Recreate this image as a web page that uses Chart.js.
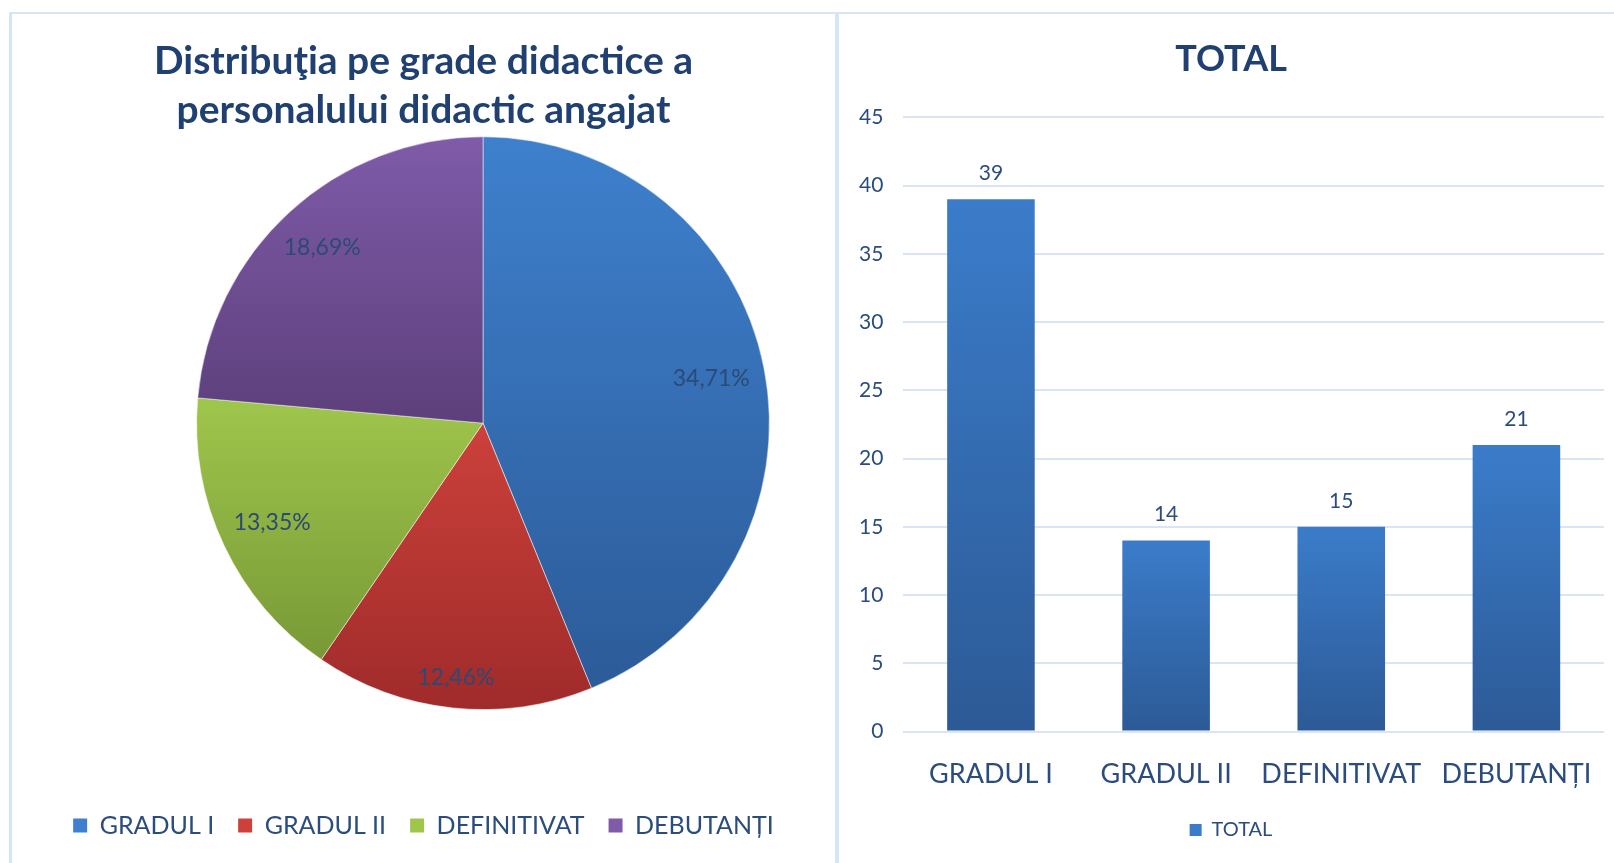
<!DOCTYPE html>
<html>
<head>
<meta charset="utf-8">
<script src="https://cdn.jsdelivr.net/npm/chart.js@4.4.0/dist/chart.umd.min.js"></script>
<style>
html, body { margin: 0; padding: 0; background: #fff; overflow: hidden; width: 1614px; height: 863px; }
.panel { position: absolute; top: 12px; border: 2px solid #d6e4f5; background: #fff; box-sizing: border-box; }
#leftPanel { left: 9px; width: 828px; height: 900px; border-left-width: 3px; }
#rightPanel { left: 837px; width: 800px; height: 900px; }
canvas { position: absolute; left: 0; top: 0; }
</style>
</head>
<body>
<div class="panel" id="leftPanel"><canvas id="pieChart" width="823" height="860"></canvas></div>
<div class="panel" id="rightPanel"><canvas id="barChart" width="775" height="860"></canvas></div>
<script>
// date
const categories = ['GRADUL I', 'GRADUL II', 'DEFINITIVAT', 'DEBUTANȚI'];
const totals = [39, 14, 15, 21];
const pieLabels = ['34,71%', '12,46%', '13,35%', '18,69%'];
const yTicks = [0, 5, 10, 15, 20, 25, 30, 35, 40, 45];

// culori (sus, jos) pentru gradient
const sliceColors = [
    ['#3e80cd', '#2c5b98'],
    ['#cc413b', '#9f2b2a'],
    ['#9fc64c', '#789936'],
    ['#7f5ba9', '#5d3f7b']
];
const barColors = ['#3b7cca', '#2c5a96'];
const textColor = '#2b4c7e';
const titleColor = '#1f4070';
const fontFamily = 'Lato, "Open Sans", sans-serif';

// gradient vertical pe fiecare felie, dupa unghiurile ei
function sliceGradient(c) {
    const cols = sliceColors[c.dataIndex % sliceColors.length];
    const chart = c.chart, a = chart.chartArea;
    if (!a || c.type !== 'data') return cols[0];
    const total = totals.reduce((s, v) => s + v, 0);
    let start = -Math.PI / 2;
    for (let i = 0; i < c.dataIndex; i++) start += totals[i] / total * 2 * Math.PI;
    const end = start + totals[c.dataIndex] / total * 2 * Math.PI;
    const cy = (a.top + a.bottom) / 2, r = Math.min(a.width, a.height) / 2;
    const ys = [cy, cy + r * Math.sin(start), cy + r * Math.sin(end)];
    [-Math.PI / 2, Math.PI / 2, 3 * Math.PI / 2].forEach(ang => {
        if (ang >= start && ang <= end) ys.push(cy + r * Math.sin(ang));
    });
    const y0 = Math.min(...ys), y1 = Math.max(...ys);
    if (!isFinite(y0) || !isFinite(y1) || y1 <= y0) return cols[0];
    const g = chart.ctx.createLinearGradient(0, y0, 0, y1);
    g.addColorStop(0, cols[0]);
    g.addColorStop(1, cols[1]);
    return g;
}

// gradient pe fiecare bara
function barGradient(c) {
    const chart = c.chart;
    if (c.type !== 'data' || !chart.scales.y) return barColors[0];
    const y = chart.scales.y;
    const top = y.getPixelForValue(c.raw), bottom = y.getPixelForValue(0);
    if (!isFinite(top) || !isFinite(bottom) || bottom <= top) return barColors[0];
    const g = chart.ctx.createLinearGradient(0, top, 0, bottom);
    g.addColorStop(0, barColors[0]);
    g.addColorStop(1, barColors[1]);
    return g;
}

// muta zona placintei (titlul si legenda raman centrate)
const pieArea = {
    id: 'pieArea',
    afterLayout(chart, args, opts) {
        const a = chart.chartArea;
        a.left += opts.left || 0;
        a.bottom -= opts.bottom || 0;
        a.width = a.right - a.left;
        a.height = a.bottom - a.top;
    }
};

// etichetele cu procente, asezate "in interior la capat" ca in Excel
const pieText = {
    id: 'pieText',
    afterDatasetsDraw(chart, args, opts) {
        const ctx = chart.ctx;
        ctx.save();
        ctx.font = '23px ' + fontFamily;
        ctx.fillStyle = '#2b4a75';
        ctx.textAlign = 'center';
        ctx.textBaseline = 'middle';
        chart.getDatasetMeta(0).data.forEach((arc, i) => {
            const mid = (arc.startAngle + arc.endAngle) / 2;
            const ux = Math.cos(mid), uy = Math.sin(mid);
            const hw = ctx.measureText(pieLabels[i]).width / 2, hh = 10;
            const cx = Math.sign(ux) * hw, cy = Math.sign(uy) * hh;
            const R = arc.outerRadius - opts.margin;
            const uc = ux * cx + uy * cy;
            const d = -uc + Math.sqrt(uc * uc - (cx * cx + cy * cy) + R * R);
            ctx.fillText(pieLabels[i], arc.x + ux * d, arc.y + uy * d);
        });
        ctx.restore();
    }
};

// valorile deasupra barelor
const barText = {
    id: 'barText',
    afterDatasetsDraw(chart) {
        const ctx = chart.ctx;
        ctx.save();
        ctx.font = '21px ' + fontFamily;
        ctx.fillStyle = textColor;
        ctx.textAlign = 'center';
        ctx.textBaseline = 'middle';
        chart.getDatasetMeta(0).data.forEach((bar, i) => {
            ctx.fillText(String(totals[i]), bar.x, bar.y - 26);
        });
        ctx.restore();
    }
};

const pieChart = new Chart(document.getElementById('pieChart'), {
    type: 'pie',
    data: {
        labels: categories,
        datasets: [{
            data: totals,
            backgroundColor: sliceGradient,
            borderColor: 'rgba(255,255,255,0.5)',
            borderWidth: 1
        }]
    },
    options: {
        responsive: false,
        animation: false,
        layout: { padding: { bottom: 26 } },
        plugins: {
            pieArea: { left: 119, bottom: 79 },
            pieText: { margin: 14 },
            tooltip: { enabled: false },
            title: {
                display: true,
                text: ['Distribuţia pe grade didactice a', 'personalului didactic angajat'],
                color: titleColor,
                font: { family: fontFamily, size: 39, weight: 'bold', lineHeight: 1.26 },
                padding: { top: 23, bottom: 1 }
            },
            legend: {
                position: 'bottom',
                labels: {
                    color: textColor,
                    font: { family: fontFamily, size: 25 },
                    boxWidth: 14,
                    boxHeight: 14,
                    padding: 24,
                    generateLabels(chart) {
                        const items = Chart.overrides.pie.plugins.legend.labels.generateLabels(chart);
                        items.forEach((it, i) => {
                            it.fillStyle = sliceColors[i][0];
                            it.strokeStyle = sliceColors[i][1];
                            it.lineWidth = 0;
                        });
                        return items;
                    }
                }
            }
        }
    },
    plugins: [pieArea, pieText]
});

const barChart = new Chart(document.getElementById('barChart'), {
    type: 'bar',
    data: {
        labels: categories,
        datasets: [{
            label: 'TOTAL',
            data: totals,
            backgroundColor: barGradient,
            barPercentage: 0.5,
            categoryPercentage: 1
        }]
    },
    options: {
        responsive: false,
        animation: false,
        layout: { padding: { left: 19, right: 10, bottom: 24 } },
        scales: {
            x: {
                grid: { display: false },
                border: { display: false },
                ticks: { color: textColor, font: { family: fontFamily, size: 27 }, padding: 18 }
            },
            y: {
                min: yTicks[0],
                max: yTicks[yTicks.length - 1],
                afterBuildTicks(axis) { axis.ticks = yTicks.map(v => ({ value: v })); },
                // axa lasa loc gol in stanga etichetelor; il scoatem ca titlul sa ramana centrat
                afterFit(axis) { axis.width -= 19; },
                grid: { color: '#d9e5f4', lineWidth: 2, drawTicks: false },
                border: { display: false },
                ticks: { color: textColor, font: { family: fontFamily, size: 21 }, padding: 20 }
            }
        },
        plugins: {
            tooltip: { enabled: false },
            title: {
                display: true,
                text: 'TOTAL',
                color: titleColor,
                font: { family: fontFamily, size: 36, weight: 'bold', lineHeight: 1.26 },
                padding: { top: 23, bottom: 35 }
            },
            legend: {
                position: 'bottom',
                labels: {
                    color: textColor,
                    font: { family: fontFamily, size: 20 },
                    boxWidth: 12,
                    boxHeight: 12,
                    padding: 12,
                    generateLabels(chart) {
                        const items = Chart.defaults.plugins.legend.labels.generateLabels(chart);
                        items.forEach(it => { it.fillStyle = barColors[0]; it.lineWidth = 0; });
                        return items;
                    }
                }
            }
        }
    },
    plugins: [barText]
});
</script>
</body>
</html>
